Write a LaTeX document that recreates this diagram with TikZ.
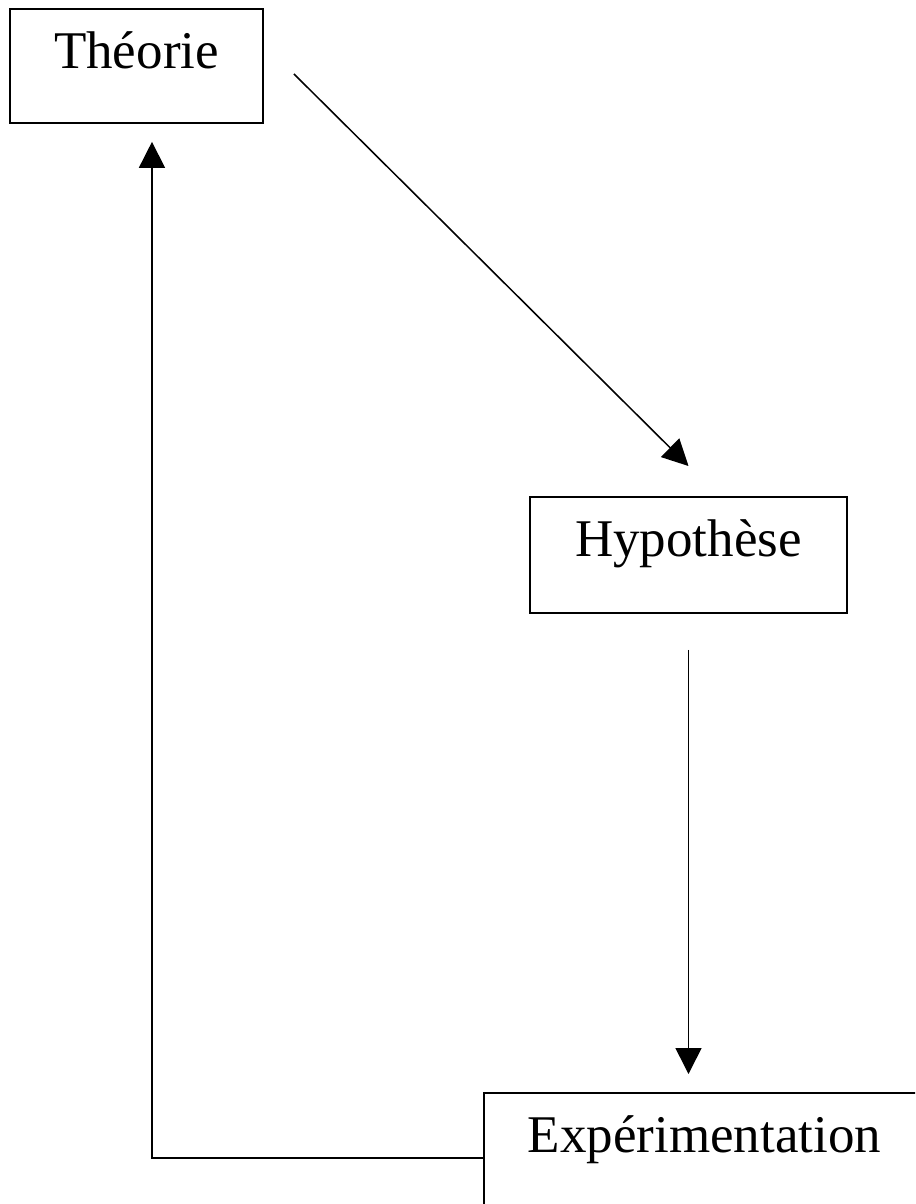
\documentclass[tikz,border=0pt]{standalone}
\usepackage{fontspec}
\setmainfont{Liberation Serif}
\usetikzlibrary{arrows.meta}
\begin{document}
\begin{tikzpicture}[x=0.75pt,y=-0.75pt,
  box/.style={draw,line width=1.4pt,rectangle,inner sep=0pt,
    font=\fontsize{39.75pt}{48pt}\selectfont,text height=45pt},
  arr/.style={line width=1.15pt,-{Triangle[length=19.5pt,width=19.5pt]}}]
\useasboundingbox (0,0) rectangle (915,1204);
\clip (0,0) rectangle (915,1204);
\node[box,anchor=north,minimum width=189.75pt,text depth=40.5pt] (th) at (136.5,8) {Théorie};
\node[box,anchor=north,minimum width=237.75pt,text depth=42pt] (hy) at (688.5,496) {Hypothèse};
\node[box,anchor=north west,minimum width=330.75pt,text depth=52.5pt] (ex) at (483,1092) {Expérimentation};
\coordinate (a1) at ([shift={(22.5pt,-6pt)}]th.east);
\coordinate (a2) at ([yshift=22.5pt]hy.north);
\draw[arr] (a1) -- (a2);
\coordinate (b1) at (hy.south |- ex.north);
\draw[arr,shorten <=27pt,shorten >=13.5pt] (hy.south) -- (b1);
\coordinate (c1) at ([xshift=11.6pt]th.south);
\draw[arr,shorten >=13.5pt] (ex.west) -| (c1);
\end{tikzpicture}
\end{document}
